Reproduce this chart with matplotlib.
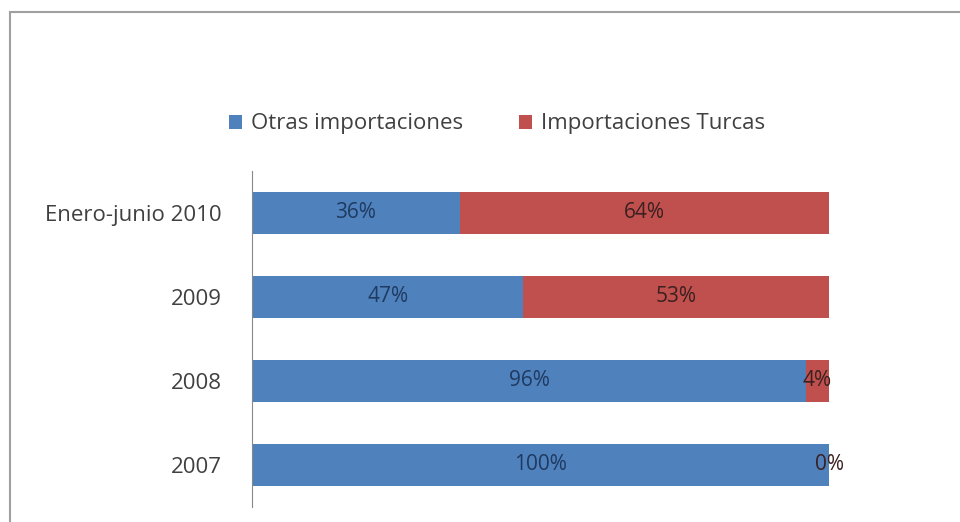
import matplotlib
matplotlib.use("Agg")
from matplotlib import pyplot as plt
from matplotlib.patches import Rectangle

# data, bottom to top
categories = ["2007", "2008", "2009", "Enero-junio 2010"]
otras = [100, 96, 47, 36]
turcas = [0, 4, 53, 64]
series_names = ["Otras importaciones", "Importaciones Turcas"]

blue = "#4F81BD"
red = "#C0504D"

plt.rcParams['font.family'] = ['Open Sans', 'DejaVu Sans']

fig = plt.figure(figsize=(9.6, 5.22), dpi=100)
# outer chart border (runs off the right/bottom edge)
fig.patches.append(Rectangle((10 / 960, -0.05), 1.0, (522 - 12) / 522 + 0.05,
                             transform=fig.transFigure, fill=False,
                             edgecolor="#A0A0A0", linewidth=1.5))

ax = fig.add_axes([252 / 960, (522 - 507) / 522, (829 - 252) / 960, (507 - 171) / 522])

y = list(range(len(categories)))
b1 = ax.barh(y, otras, height=0.5, color=blue, label=series_names[0])
b2 = ax.barh(y, turcas, left=otras, height=0.5, color=red, label=series_names[1])

for i in y:
    ax.text(otras[i] / 2, i, f"{otras[i]}%", ha="center", va="center",
            fontsize=15, color="#1F3A60")
    ax.text(otras[i] + turcas[i] / 2, i, f"{turcas[i]}%", ha="center", va="center",
            fontsize=15, color="#3A2020")

ax.set_xlim(0, 100)
ax.set_ylim(-0.5, 3.5)
ax.set_yticks(y)
ax.set_yticklabels(categories, fontsize=16, color="#404040")
ax.tick_params(axis="y", length=0, pad=22)
ax.set_xticks([])
for s in ["top", "right", "bottom"]:
    ax.spines[s].set_visible(False)
ax.spines["left"].set_color("#888888")

fig.legend(handles=[b1, b2], labels=series_names, loc="center",
           bbox_to_anchor=(497 / 960, 1 - 124 / 522), ncol=2, frameon=False,
           fontsize=16, handlelength=0.6, handleheight=0.6, handletextpad=0.4,
           columnspacing=2.5, labelcolor="#404040")

fig.savefig("out.png", dpi=100)
